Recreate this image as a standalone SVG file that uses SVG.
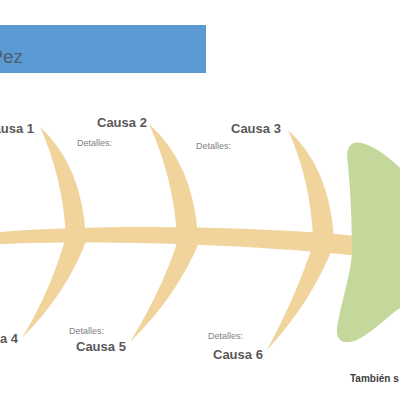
<svg xmlns="http://www.w3.org/2000/svg" width="400" height="400" viewBox="0 0 400 400">
<style>
.bone{fill:#f1d49c}
.head{fill:#c5d89b}
.cause{font-family:"Liberation Sans",Arial,sans-serif;font-weight:bold;font-size:13px;fill:#595959}
.det{font-family:"Liberation Sans",Arial,sans-serif;font-size:9px;fill:#808080}
</style>
<rect width="400" height="400" fill="#ffffff"/>
<g id="title">
<rect x="0" y="25" width="206" height="48" fill="#5b9bd5"/>
<text x="23" y="63" text-anchor="end" font-family="Liberation Sans,Arial,sans-serif" font-size="19" fill="#4f5d6c">Pez</text>
</g>
<g id="bones">
<path class="bone" d="M40,127 Q82,165 86,238 L66,238 Q63,178 40,127 Z"/>
<path class="bone" d="M149,124 Q193,163 198,236 L177,236 Q173,176 149,124 Z"/>
<path class="bone" d="M288,130 Q330,168 334,240 L313,240 Q311,181 288,130 Z"/>
<path class="bone" d="M66,236 L88,236 Q68,292 22,338 Q52,288 66,236 Z"/>
<path class="bone" d="M178,240 L200,240 Q178,295 130,342 Q162,290 178,240 Z"/>
<path class="bone" d="M313,244 L334,244 Q313,300 267,350 Q297,294 313,244 Z"/>
</g>
<g id="spine">
<path class="bone" d="M0,232 C100,224 250,226 358,236 L358,256 C250,244 100,240 0,244 Z"/>
</g>
<g id="head">
<path class="head" d="M348,165 C345,148 350,140 362,143 C377,147 392,160 400,168 L400,308 C385,318 365,340 350,342 C338,344 335,335 338,322 C342,300 352,270 352,250 C352,220 350,185 348,165 Z"/>
</g>
<g id="cause1"><text class="cause" x="34" y="133" text-anchor="end">Causa 1</text></g>
<g id="cause2"><text class="cause" x="97" y="127">Causa 2</text><text class="det" x="77" y="146">Detalles:</text></g>
<g id="cause3"><text class="cause" x="231" y="133">Causa 3</text><text class="det" x="196" y="149">Detalles:</text></g>
<g id="cause4"><text class="cause" x="18" y="343" text-anchor="end">Causa 4</text><text class="det" x="69" y="334">Detalles:</text></g>
<g id="cause5"><text class="cause" x="76" y="351">Causa 5</text></g>
<g id="cause6"><text class="cause" x="213" y="359">Causa 6</text><text class="det" x="208" y="339">Detalles:</text></g>
<g id="note"><text x="350" y="382" font-family="Liberation Sans,Arial,sans-serif" font-weight="bold" font-size="10" fill="#404040">También s</text></g>
</svg>
